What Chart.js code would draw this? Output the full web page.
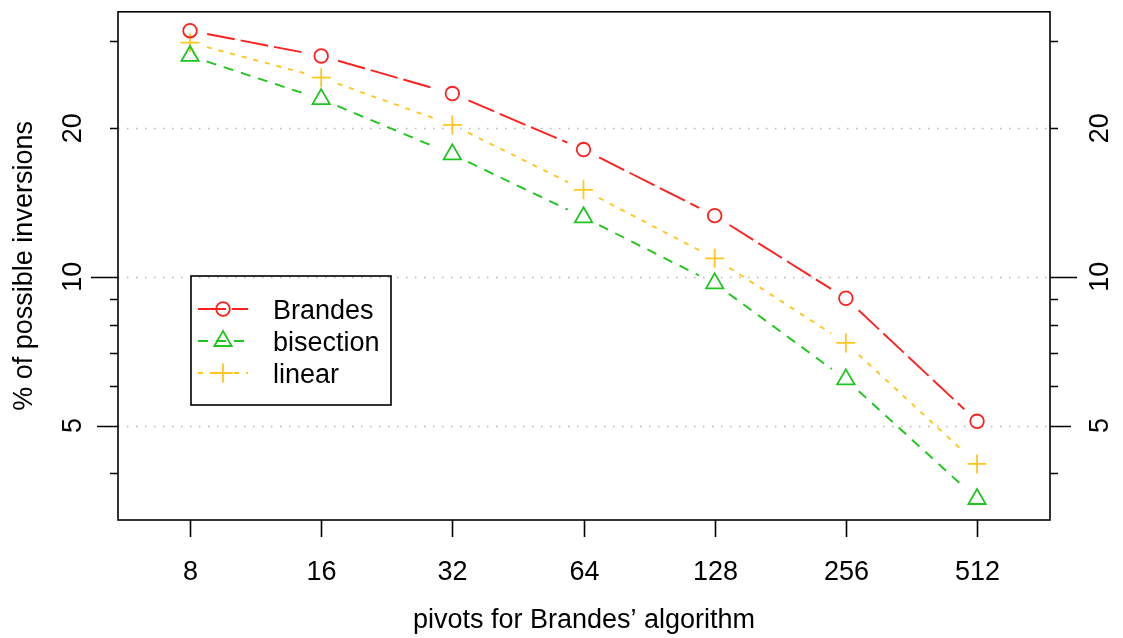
<!DOCTYPE html>
<html>
<head>
<meta charset="utf-8">
<script src="https://cdn.jsdelivr.net/npm/chart.js@4/dist/chart.umd.min.js"></script>
<style>
  body { margin: 0; background: #fff; }
  canvas { display: block; }
</style>
</head>
<body>
<canvas id="chart" width="1123" height="638"></canvas>
<script>
// data
const pivots = [8, 16, 32, 64, 128, 256, 512];
const brandes = [31.5, 28.0, 23.5, 18.1, 13.3, 9.05, 5.1];
const bisection = [28.0, 22.9, 17.7, 13.2, 9.7, 6.2, 3.55];
const linear = [29.8, 25.3, 20.3, 15.0, 10.9, 7.35, 4.18];

const seriesNames = ['Brandes', 'bisection', 'linear'];
const yLabelTicks = [5, 10, 20];
const yMinorTicks = [4, 6, 7, 8, 9, 30];
const gridValues = [5, 10, 20];

const FONT = '27px "Liberation Sans", Arial, sans-serif';

function pts(values) {
    return values.map((v, i) => ({ x: pivots[i], y: v }));
}

// lines with gaps round the points, like R's type="b"
const gapLines = {
    id: 'gapLines',
    beforeDatasetsDraw(chart) {
        const ctx = chart.ctx;
        const area = chart.chartArea;
        const yScale = chart.scales.y;

        // dotted reference lines
        ctx.save();
        ctx.strokeStyle = '#b4b4b4';
        ctx.lineWidth = 1.5;
        ctx.setLineDash([1.5, 7.5]);
        gridValues.forEach(v => {
            const y = Math.round(yScale.getPixelForValue(v)) + 0.5;
            ctx.beginPath();
            ctx.moveTo(area.left, y);
            ctx.lineTo(area.right, y);
            ctx.stroke();
        });
        ctx.restore();

        const gap = 17.5;
        chart.data.datasets.forEach((ds, di) => {
            const meta = chart.getDatasetMeta(di);
            ctx.save();
            ctx.strokeStyle = ds.borderColor;
            ctx.lineWidth = 1.9;
            ctx.lineCap = 'butt';
            for (let i = 0; i < meta.data.length - 1; i++) {
                const a = meta.data[i], b = meta.data[i + 1];
                const dx = b.x - a.x, dy = b.y - a.y;
                const len = Math.sqrt(dx * dx + dy * dy);
                if (len <= gap * 2) continue;
                const ux = dx / len, uy = dy / len;
                ctx.setLineDash(ds.lineDash);
                ctx.lineDashOffset = 0;
                ctx.beginPath();
                ctx.moveTo(a.x + ux * gap, a.y + uy * gap);
                ctx.lineTo(b.x - ux * gap, b.y - uy * gap);
                ctx.stroke();
            }
            ctx.restore();
        });
    }
};

function drawMarker(ctx, style, x, y, r, color) {
    ctx.save();
    ctx.strokeStyle = color;
    ctx.lineWidth = 1.8;
    ctx.setLineDash([]);
    ctx.beginPath();
    if (style === 'circle') {
        ctx.arc(x, y, r, 0, Math.PI * 2);
    } else if (style === 'triangle') {
        let rad = 0;
        ctx.moveTo(x + Math.sin(rad) * r, y - Math.cos(rad) * r);
        rad += Math.PI * 2 / 3;
        ctx.lineTo(x + Math.sin(rad) * r, y - Math.cos(rad) * r);
        rad += Math.PI * 2 / 3;
        ctx.lineTo(x + Math.sin(rad) * r, y - Math.cos(rad) * r);
        ctx.closePath();
    } else {
        ctx.moveTo(x, y - r); ctx.lineTo(x, y + r);
        ctx.moveTo(x - r, y); ctx.lineTo(x + r, y);
    }
    ctx.stroke();
    ctx.restore();
}

// box, ticks, labels and legend
const frame = {
    id: 'frame',
    afterDatasetsDraw(chart) {
        const ctx = chart.ctx;
        const area = chart.chartArea;
        const xs = chart.scales.x, ys = chart.scales.y;

        ctx.save();
        ctx.strokeStyle = '#000';
        ctx.lineWidth = 1.6;
        ctx.strokeRect(area.left, area.top, area.right - area.left, area.bottom - area.top);

        // x ticks
        ctx.fillStyle = '#000';
        ctx.font = FONT;
        ctx.textAlign = 'center';
        ctx.textBaseline = 'alphabetic';
        pivots.forEach(p => {
            const x = Math.round(xs.getPixelForValue(p)) + 0.5;
            ctx.beginPath();
            ctx.moveTo(x, area.bottom);
            ctx.lineTo(x, area.bottom + 17);
            ctx.stroke();
            ctx.fillText(String(p), x, 580);
        });
        ctx.fillText('pivots for Brandes\u2019 algorithm', (area.left + area.right) / 2, 628);

        // y ticks, both sides
        const tickLen = { 5: 21, 10: 27, 20: 8 };
        yLabelTicks.concat(yMinorTicks).forEach(v => {
            const y = Math.round(ys.getPixelForValue(v)) + 0.5;
            const len = tickLen[v] || 8;
            ctx.beginPath();
            ctx.moveTo(area.left - len, y);
            ctx.lineTo(area.left, y);
            ctx.moveTo(area.right, y);
            ctx.lineTo(area.right + len, y);
            ctx.stroke();
        });
        yLabelTicks.forEach(v => {
            const y = ys.getPixelForValue(v);
            [81, 1108].forEach(bx => {
                ctx.save();
                ctx.translate(bx, y);
                ctx.rotate(-Math.PI / 2);
                ctx.fillText(String(v), 0, 0);
                ctx.restore();
            });
        });
        ctx.save();
        ctx.translate(32, (area.top + area.bottom) / 2);
        ctx.rotate(-Math.PI / 2);
        ctx.fillText('% of possible inversions', 0, 0);
        ctx.restore();

        // legend
        ctx.strokeRect(191, 276, 200, 129);
        ctx.textAlign = 'left';
        chart.data.datasets.forEach((ds, i) => {
            const y = 309 + i * 32;
            ctx.save();
            ctx.strokeStyle = ds.borderColor;
            ctx.lineWidth = 1.9;
            ctx.setLineDash(ds.lineDash);
            ctx.beginPath();
            ctx.moveTo(198, y);
            ctx.lineTo(248, y);
            ctx.stroke();
            ctx.restore();
            drawMarker(ctx, ds.pointStyle, 223, y, ds.pointRadius, ds.borderColor);
            ctx.fillText(seriesNames[i], 273, y + 9.5);
        });
        ctx.restore();
    }
};

new Chart(document.getElementById('chart'), {
    type: 'line',
    data: {
        datasets: [
            {
                label: seriesNames[0],
                data: pts(brandes),
                borderColor: '#ff2020',
                backgroundColor: 'rgba(0,0,0,0)',
                pointStyle: 'circle',
                pointRadius: 6.8,
                pointBorderWidth: 1.8,
                showLine: false,
                lineDash: [28, 6]
            },
            {
                label: seriesNames[1],
                data: pts(bisection),
                borderColor: '#1fc41f',
                backgroundColor: 'rgba(0,0,0,0)',
                pointStyle: 'triangle',
                pointRadius: 10,
                pointBorderWidth: 1.8,
                showLine: false,
                lineDash: [10, 8]
            },
            {
                label: seriesNames[2],
                data: pts(linear),
                borderColor: '#ffc61e',
                backgroundColor: 'rgba(0,0,0,0)',
                pointStyle: 'cross',
                pointRadius: 9.5,
                pointBorderWidth: 1.8,
                showLine: false,
                lineDash: [5, 7]
            }
        ]
    },
    options: {
        responsive: false,
        animation: false,
        layout: {
            padding: { left: 118, top: 9, right: 73, bottom: 118 }
        },
        scales: {
            x: { type: 'logarithmic', min: 5.468, max: 752.9, display: false },
            y: { type: 'logarithmic', min: 3.219, max: 34.4, display: false }
        },
        plugins: {
            legend: { display: false },
            tooltip: { enabled: false }
        }
    },
    plugins: [gapLines, frame]
});
</script>
</body>
</html>
